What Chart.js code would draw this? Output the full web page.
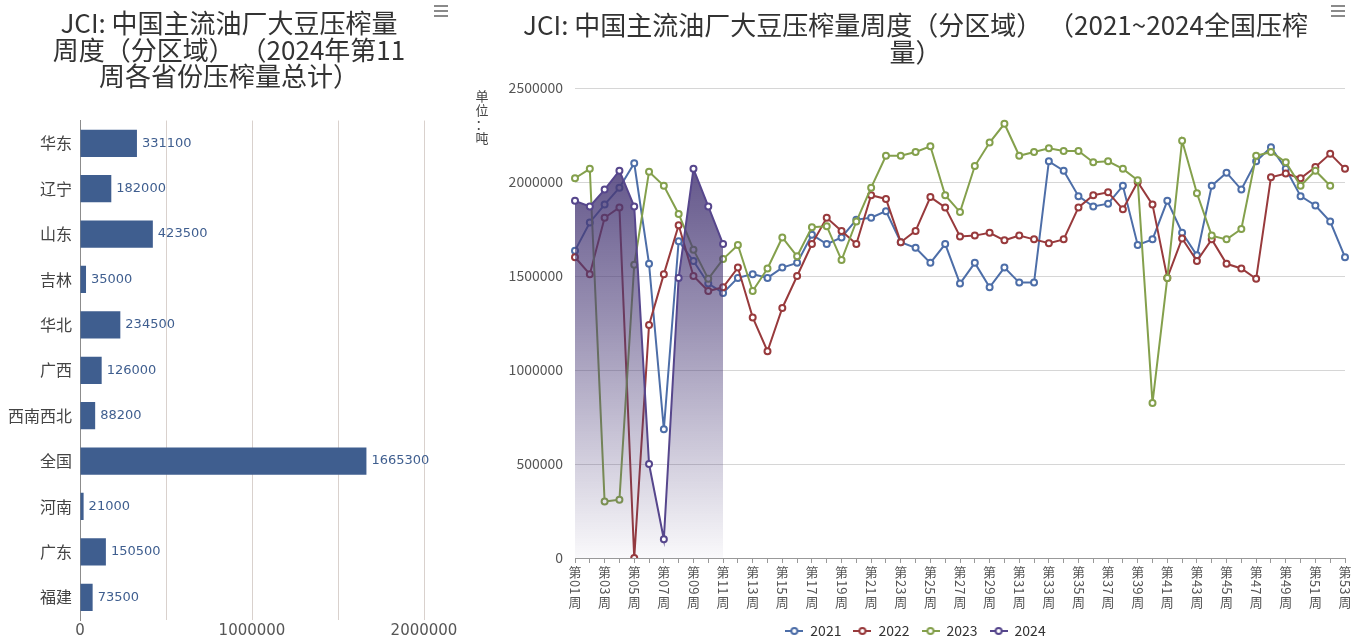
<!DOCTYPE html>
<html>
<head>
<meta charset="utf-8">
<script src="https://cdn.jsdelivr.net/npm/chart.js@4"></script>
<style>
  body { margin: 0; background: #fff; }
  .box { position: absolute; top: 0; height: 641px; }
  .menu { position: absolute; top: 5px; width: 14px; }
  .menu div { height: 2px; background: #8a8a8a; margin-bottom: 3px; }
</style>
</head>
<body>
<div class="box" style="left:0;width:470px;"><canvas id="bar-chart" width="470" height="641"></canvas></div>
<div class="box" style="left:470px;width:891px;"><canvas id="line-chart" width="891" height="641"></canvas></div>
<div class="menu" style="left:434px;"><div></div><div></div><div></div></div>
<div class="menu" style="left:1331px;"><div></div><div></div><div></div></div>
<script>
// 2024年第11周各省份压榨量（吨）
const provinces = ['华东', '辽宁', '山东', '吉林', '华北', '广西', '西南西北', '全国', '河南', '广东', '福建'];
const provinceVolume = [331100, 182000, 423500, 35000, 234500, 126000, 88200, 1665300, 21000, 150500, 73500];

// 全国周度压榨量（吨），第01周 ~ 第53周
const weeks = ['第01周', '第02周', '第03周', '第04周', '第05周', '第06周', '第07周', '第08周', '第09周', '第10周',
    '第11周', '第12周', '第13周', '第14周', '第15周', '第16周', '第17周', '第18周', '第19周', '第20周',
    '第21周', '第22周', '第23周', '第24周', '第25周', '第26周', '第27周', '第28周', '第29周', '第30周',
    '第31周', '第32周', '第33周', '第34周', '第35周', '第36周', '第37周', '第38周', '第39周', '第40周',
    '第41周', '第42周', '第43周', '第44周', '第45周', '第46周', '第47周', '第48周', '第49周', '第50周',
    '第51周', '第52周', '第53周'];
const yearLabels = ['2021', '2022', '2023', '2024'];
const crush2021 = [1635000, 1785000, 1880000, 1970000, 2100000, 1565000, 685000, 1685000, 1580000, 1460000,
    1410000, 1490000, 1510000, 1490000, 1545000, 1570000, 1720000, 1670000, 1705000, 1800000,
    1810000, 1845000, 1680000, 1650000, 1570000, 1670000, 1460000, 1570000, 1440000, 1545000,
    1465000, 1465000, 2110000, 2060000, 1925000, 1870000, 1885000, 1980000, 1665000, 1695000,
    1900000, 1730000, 1610000, 1980000, 2050000, 1960000, 2110000, 2185000, 2070000, 1925000,
    1875000, 1790000, 1600000];
const crush2022 = [1600000, 1510000, 1810000, 1865000, 0, 1240000, 1510000, 1770000, 1500000, 1420000,
    1440000, 1545000, 1280000, 1100000, 1330000, 1500000, 1670000, 1810000, 1740000, 1670000,
    1930000, 1910000, 1680000, 1740000, 1920000, 1865000, 1710000, 1715000, 1730000, 1690000,
    1715000, 1695000, 1675000, 1695000, 1865000, 1930000, 1945000, 1855000, 2000000, 1880000,
    1490000, 1700000, 1580000, 1695000, 1565000, 1540000, 1485000, 2025000, 2045000, 2020000,
    2080000, 2150000, 2070000];
const crush2023 = [2020000, 2070000, 300000, 310000, 1560000, 2055000, 1980000, 1830000, 1640000, 1485000,
    1590000, 1665000, 1420000, 1540000, 1705000, 1605000, 1760000, 1765000, 1585000, 1790000,
    1970000, 2140000, 2140000, 2160000, 2190000, 1930000, 1840000, 2085000, 2210000, 2310000,
    2140000, 2160000, 2180000, 2165000, 2165000, 2105000, 2110000, 2070000, 2010000, 825000,
    1490000, 2220000, 1940000, 1715000, 1695000, 1750000, 2140000, 2160000, 2105000, 1980000,
    2060000, 1980000];
const crush2024 = [1900000, 1870000, 1960000, 2060000, 1870000, 500000, 100000, 1490000, 2070000, 1870000,
    1670000];

const yearColors = ['#4d6ea8', '#983a3c', '#84a04c', '#56468c'];

Chart.defaults.font.family = '"Noto Sans CJK SC", "Noto Sans", sans-serif';
Chart.defaults.animation = false;

// value labels at the end of each bar
const barValues = {
    id: 'barValues',
    afterDatasetsDraw(chart) {
        const ctx = chart.ctx;
        const meta = chart.getDatasetMeta(0);
        ctx.save();
        ctx.font = '13px "DejaVu Sans"';
        ctx.fillStyle = '#3f5e8f';
        ctx.textBaseline = 'middle';
        meta.data.forEach((bar, i) => {
            ctx.fillText(provinceVolume[i], bar.x + 5, bar.y);
        });
        ctx.restore();
    }
};

new Chart(document.getElementById('bar-chart'), {
    type: 'bar',
    data: {
        labels: provinces,
        datasets: [{
            data: provinceVolume,
            backgroundColor: '#3f5e8f',
            categoryPercentage: 0.6,
            barPercentage: 1
        }]
    },
    options: {
        indexAxis: 'y',
        responsive: false,
        devicePixelRatio: 1,
        layout: { padding: { left: 0, right: 12, top: 0, bottom: 0 } },
        scales: {
            x: {
                min: 0,
                max: 2000000,
                afterFit: s => { s.height = 21; },
                ticks: {
                    stepSize: 500000,
                    padding: 2,
                    color: '#555',
                    font: { family: '"DejaVu Sans"', size: 15 },
                    callback: v => (v % 1000000 === 0 ? v : '')
                },
                grid: { color: '#d9d1cd', drawTicks: false },
                border: { display: false }
            },
            y: {
                afterFit: s => { s.width = 80; },
                ticks: { color: '#444', padding: 8, font: { size: 16 } },
                grid: { display: false, drawTicks: false },
                border: { color: '#8c8c8c' }
            },
            // empty spacer on the right so the plot ends where the reference does
            spacer: {
                type: 'category',
                position: 'right',
                afterFit: s => { s.width = 34; },
                ticks: { display: false },
                grid: { display: false },
                border: { display: false }
            }
        },
        plugins: {
            legend: { display: false },
            tooltip: { enabled: false },
            title: {
                display: true,
                text: ['JCI: 中国主流油厂大豆压榨量', '周度（分区域） （2024年第11', '周各省份压榨量总计）'],
                color: '#333',
                font: { size: 26, weight: 'normal', lineHeight: 1.02 },
                padding: { top: 10, bottom: 31 }
            }
        }
    },
    plugins: [barValues]
});

// legend icons: short line with a hollow circle
function legendIcon(color) {
    const c = document.createElement('canvas');
    c.width = 18;
    c.height = 10;
    const g = c.getContext('2d');
    g.strokeStyle = color;
    g.lineWidth = 2;
    g.beginPath();
    g.moveTo(0, 5);
    g.lineTo(18, 5);
    g.stroke();
    g.fillStyle = '#fff';
    g.beginPath();
    g.arc(9, 5, 3, 0, Math.PI * 2);
    g.fill();
    g.stroke();
    return c;
}
const icons = yearColors.map(legendIcon);

// week labels: CJK upright, digits turned clockwise; y-axis name written vertically
const weekAxis = {
    id: 'weekAxis',
    afterDraw(chart) {
        const ctx = chart.ctx;
        const xs = chart.scales.x;
        const top = chart.chartArea.bottom + 8;
        ctx.save();
        ctx.fillStyle = '#555';
        ctx.font = '13px "Noto Sans CJK SC"';
        weeks.forEach((w, i) => {
            if (i % 2) return;
            const x = xs.getPixelForValue(i);
            const num = w.slice(1, 3);
            ctx.textAlign = 'center';
            ctx.textBaseline = 'top';
            ctx.fillText(w[0], x, top);
            const numW = ctx.measureText(num).width;
            ctx.save();
            ctx.translate(x, top + 14);
            ctx.rotate(Math.PI / 2);
            ctx.textAlign = 'left';
            ctx.textBaseline = 'middle';
            ctx.fillText(num, 0, 0);
            ctx.restore();
            ctx.fillText(w[3], x, top + 15 + numW);
        });
        ctx.fillStyle = '#444';
        ctx.textAlign = 'center';
        ctx.textBaseline = 'middle';
        ['单', '位', '：', '吨'].forEach((ch, i) => {
            ctx.fillText(ch, 12, 96 + i * 14);
        });
        ctx.restore();
    }
};

function fillGradient(context) {
    const chart = context.chart;
    const area = chart.chartArea;
    if (!area) return 'rgba(75,60,120,0.5)';
    const g = chart.ctx.createLinearGradient(0, area.top, 0, area.bottom);
    g.addColorStop(0, 'rgba(72,57,118,1)');
    g.addColorStop(0.5, 'rgba(72,57,118,0.55)');
    g.addColorStop(1, 'rgba(72,57,118,0.03)');
    return g;
}

const seriesData = [crush2021, crush2022, crush2023, crush2024];

new Chart(document.getElementById('line-chart'), {
    type: 'line',
    data: {
        labels: weeks,
        datasets: seriesData.map((d, i) => ({
            label: yearLabels[i],
            data: d,
            borderColor: yearColors[i],
            borderWidth: 2,
            pointRadius: 3,
            pointBorderWidth: 2,
            pointBackgroundColor: '#fff',
            pointBorderColor: yearColors[i],
            tension: 0,
            fill: i === 3 ? 'origin' : false,
            backgroundColor: i === 3 ? fillGradient : yearColors[i],
            order: 3 - i
        }))
    },
    options: {
        responsive: false,
        devicePixelRatio: 1,
        layout: { padding: { left: 16, right: 16, top: 0, bottom: -7 } },
        scales: {
            x: {
                offset: false,
                afterFit: s => { s.height = 54; },
                ticks: { display: false },
                grid: { drawOnChartArea: false, drawTicks: true, tickLength: 5, color: '#999' },
                border: { color: '#999' }
            },
            y: {
                min: 0,
                max: 2500000,
                afterFit: s => { s.width = 89; },
                ticks: {
                    stepSize: 500000,
                    padding: 12,
                    color: '#555',
                    font: { size: 14 },
                    callback: v => String(v)
                },
                grid: { color: '#d6d6d6', drawTicks: false },
                border: { display: false }
            }
        },
        plugins: {
            tooltip: { enabled: false },
            title: {
                display: true,
                text: ['JCI: 中国主流油厂大豆压榨量周度（分区域） （2021~2024全国压榨', '量）'],
                color: '#333',
                font: { size: 26, weight: 'normal', lineHeight: 1.02 },
                padding: { top: 12, bottom: 23 }
            },
            legend: {
                position: 'bottom',
                labels: {
                    usePointStyle: true,
                    pointStyleWidth: 18,
                    padding: 12,
                    color: '#333',
                    font: { size: 14 },
                    generateLabels: chart => chart.data.datasets.map((ds, i) => ({
                        text: ds.label,
                        pointStyle: icons[i],
                        fillStyle: yearColors[i],
                        strokeStyle: yearColors[i],
                        lineWidth: 0,
                        fontColor: '#333',
                        hidden: !chart.isDatasetVisible(i),
                        datasetIndex: i
                    }))
                }
            }
        }
    },
    plugins: [weekAxis]
});
</script>
</body>
</html>
